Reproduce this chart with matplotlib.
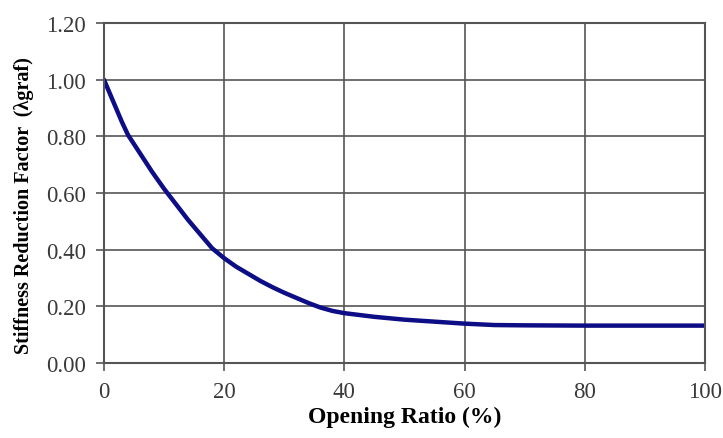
import matplotlib
matplotlib.use('Agg')
from matplotlib import pyplot as plt
import numpy as np

# opening ratio (%) and stiffness reduction factor
ratio = [0, 1, 2, 3, 4, 6, 8, 10, 12, 14, 16, 18, 20, 22, 24, 26, 28, 30, 32, 34, 36, 38, 40,
         45, 50, 55, 60, 65, 70, 80, 90, 100]
lam = [1.00, 0.95, 0.90, 0.85, 0.805, 0.74, 0.675, 0.615, 0.56, 0.505, 0.455, 0.405, 0.37,
       0.34, 0.315, 0.29, 0.268, 0.248, 0.23, 0.212, 0.196, 0.184, 0.176,
       0.163, 0.153, 0.146, 0.139, 0.134, 0.133, 0.132, 0.132, 0.132]
xticks = [0, 20, 40, 60, 80, 100]
yticks = [0.0, 0.2, 0.4, 0.6, 0.8, 1.0, 1.2]

plt.rcParams['font.family'] = ['Liberation Serif', 'DejaVu Serif']

fig = plt.figure(figsize=(7.23, 4.39), dpi=100)
ax = fig.add_axes([0.1438, 0.1708, 0.8312, 0.7745])
ax.plot(ratio, lam, color='#0d0d85', lw=3.2, solid_capstyle='round', solid_joinstyle='round')
ax.set_xlim(0, 100)
ax.set_ylim(0, 1.2)
ax.set_xticks(xticks)
ax.set_yticks(yticks)
ax.set_yticklabels(['%.2f' % v for v in yticks])
ax.grid(True, color='#555555', lw=1.2)
for s in ax.spines.values():
    s.set_color('#555555')
    s.set_linewidth(1.5)
ax.tick_params(direction='out', length=6, width=1.2, color='#555555',
               labelsize=16.5, labelcolor='#3a3a3a', pad=7)
ax.set_xlabel('Opening Ratio (%)', fontsize=17, fontweight='bold', labelpad=3)
ax.set_ylabel('Stiffness Reduction Factor  (λgraf)', fontsize=14.5, fontweight='bold')
ax.yaxis.set_label_coords(-0.117, 0.465)
plt.savefig('out.png', dpi=100)
